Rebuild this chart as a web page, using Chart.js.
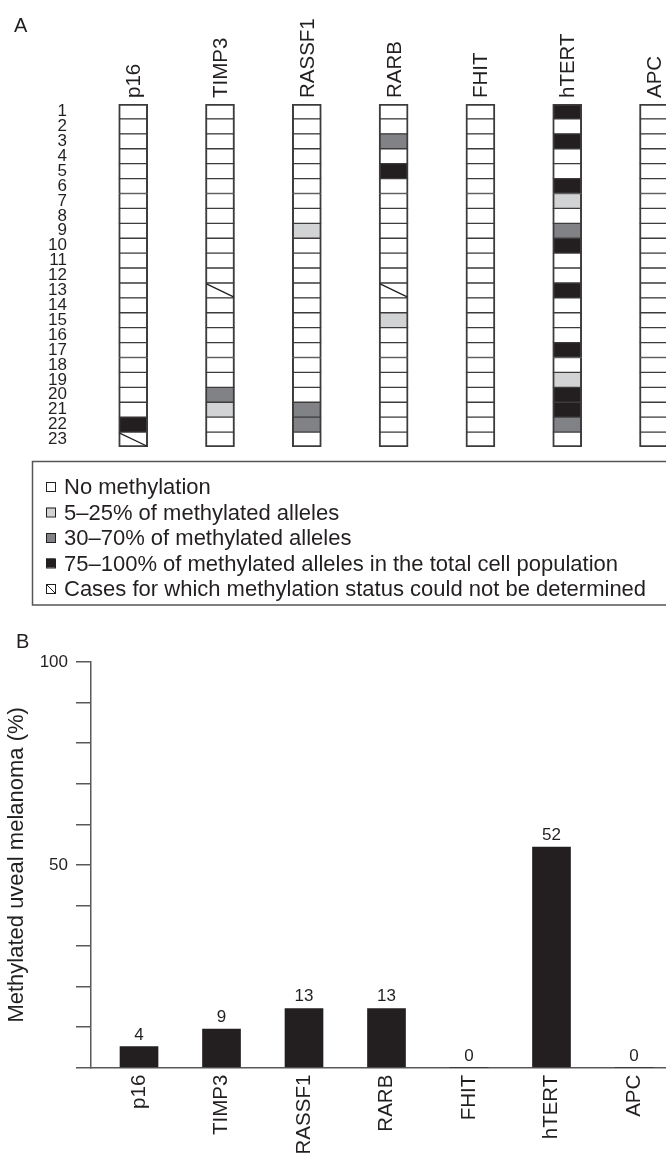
<!DOCTYPE html>
<html><head><meta charset="utf-8">
<script src="https://cdn.jsdelivr.net/npm/chart.js@4.4.1/dist/chart.umd.min.js"></script>
<style>
html,body{margin:0;padding:0;background:#fff;width:666px;height:1153px;overflow:hidden}
.wrap{position:absolute;left:0;width:666px}
#wa{top:0;height:620px}
#wb{top:620px;height:533px}
canvas{display:block}
</style></head><body>
<div class="wrap" id="wa"><canvas id="ca" width="666" height="620"></canvas></div>
<div class="wrap" id="wb"><canvas id="cb" width="666" height="533"></canvas></div>
<script>
// ---------------- data ----------------
const genes = ['p16', 'TIMP3', 'RASSF1', 'RARB', 'FHIT', 'hTERT', 'APC'];
const caseNumbers = [1,2,3,4,5,6,7,8,9,10,11,12,13,14,15,16,17,18,19,20,21,22,23];
// N = no methylation, L = 5–25%, M = 30–70%, H = 75–100%, U = not determined
const p16Status    = ['N','N','N','N','N','N','N','N','N','N','N','N','N','N','N','N','N','N','N','N','N','H','U'];
const timp3Status  = ['N','N','N','N','N','N','N','N','N','N','N','N','U','N','N','N','N','N','N','M','L','N','N'];
const rassf1Status = ['N','N','N','N','N','N','N','N','L','N','N','N','N','N','N','N','N','N','N','N','M','M','N'];
const rarbStatus   = ['N','N','M','N','H','N','N','N','N','N','N','N','U','N','L','N','N','N','N','N','N','N','N'];
const fhitStatus   = ['N','N','N','N','N','N','N','N','N','N','N','N','N','N','N','N','N','N','N','N','N','N','N'];
const htertStatus  = ['H','N','H','N','N','H','L','N','M','H','N','N','H','N','N','N','H','N','L','H','H','M','N'];
const apcStatus    = ['N','N','N','N','N','N','N','N','N','N','N','N','N','N','N','N','N','N','N','N','N','N','N'];
const legendTexts = ['No methylation', '5–25% of methylated alleles', '30–70% of methylated alleles',
  '75–100% of methylated alleles in the total cell population', 'Cases for which methylation status could not be determined'];
const legendStatus = ['N','L','M','H','U'];
// panel B
const barHeights = [5.2, 9.5, 14.6, 14.6, 0, 54.4, 0];
const barLabels = ['4', '9', '13', '13', '0', '52', '0'];
const yTickValues = [0,10,20,30,40,50,60,70,80,90,100];
const yTickLabeled = [50, 100];
const yTitle = 'Methylated uveal melanoma (%)';

// ---------------- styles ----------------
const FONT = "'Liberation Sans', Arial, Helvetica, sans-serif";
const INK = '#231f20';
const LINE = '#3d3b3c';
const statusColor = { N: '#ffffff', L: '#d1d3d4', M: '#808285', H: '#231f20', U: '#ffffff' };
const statusByGene = [p16Status, timp3Status, rassf1Status, rarbStatus, fhitStatus, htertStatus, apcStatus];

const panelLetter = {
  id: 'panelLetter',
  afterDraw(chart, args, o) {
    const ctx = chart.ctx; ctx.save();
    ctx.font = `20px ${FONT}`; ctx.fillStyle = INK; ctx.textAlign = 'left'; ctx.textBaseline = 'alphabetic';
    ctx.fillText(o.text, o.x, o.y); ctx.restore();
  }
};

const undetermined = {
  id: 'undetermined',
  afterDatasetsDraw(chart) {
    const ctx = chart.ctx, a = chart.chartArea;
    ctx.save();
    ctx.beginPath(); ctx.rect(a.left, a.top, a.right - a.left, a.bottom - a.top); ctx.clip();
    chart.data.datasets.forEach((ds, di) => {
      const meta = chart.getDatasetMeta(di);
      meta.data.forEach((el, i) => {
        if (statusByGene[di][i] !== 'U') return;
        const p = el.getProps(['x', 'y', 'base', 'width'], true);
        const l = p.x - p.width / 2, r = p.x + p.width / 2;
        const t = Math.min(p.y, p.base), b = Math.max(p.y, p.base);
        ctx.beginPath(); ctx.moveTo(l + 1, t + 1); ctx.lineTo(r - 1, b - 1);
        ctx.strokeStyle = INK; ctx.lineWidth = 1.3; ctx.stroke();
      });
    });
    ctx.restore();
  }
};

const boxLegend = {
  id: 'boxLegend',
  afterDraw(chart) {
    const ctx = chart.ctx; ctx.save();
    ctx.strokeStyle = '#555'; ctx.lineWidth = 1.5;
    ctx.strokeRect(32.5, 461.5, 700, 143.5);
    legendTexts.forEach((t, i) => {
      const cy = 487 + i * 25.5;
      const s = legendStatus[i];
      ctx.fillStyle = statusColor[s];
      ctx.fillRect(46, cy - 5, 9, 9);
      ctx.strokeStyle = INK; ctx.lineWidth = 1;
      ctx.strokeRect(46.5, cy - 4.5, 9, 9);
      if (s === 'U') { ctx.beginPath(); ctx.moveTo(47, cy - 4); ctx.lineTo(55, cy + 4); ctx.stroke(); }
      ctx.fillStyle = INK; ctx.font = `22px ${FONT}`; ctx.textAlign = 'left'; ctx.textBaseline = 'middle';
      ctx.fillText(t, 64, cy + 1);
    });
    ctx.restore();
  }
};

const barValueLabels = {
  id: 'barValueLabels',
  afterDatasetsDraw(chart) {
    const ctx = chart.ctx; ctx.save();
    ctx.font = `17px ${FONT}`; ctx.fillStyle = INK; ctx.textAlign = 'center'; ctx.textBaseline = 'alphabetic';
    chart.getDatasetMeta(0).data.forEach((el, i) => { ctx.fillText(barLabels[i], el.x, el.y - 7); });
    ctx.restore();
  }
};

// ---------------- panel A ----------------
new Chart(document.getElementById('ca'), {
  type: 'bar',
  data: {
    datasets: genes.map((g, gi) => ({
      label: g,
      data: caseNumbers.map(r => ({ x: gi, y: [r - 1, r] })),
      backgroundColor: statusByGene[gi].map(s => statusColor[s]),
      borderColor: LINE,
      borderWidth: c => ({ top: c.dataIndex === 0 ? 2 : 1, bottom: c.dataIndex === caseNumbers.length - 1 ? 2 : 1, left: 2, right: 2 }),
      borderSkipped: false,
      barThickness: 29,
      grouped: false
    }))
  },
  options: {
    responsive: false, animation: false,
    layout: { autoPadding: false, padding: { top: 0, left: 0, right: 0, bottom: 173 } },
    plugins: { legend: { display: false }, tooltip: { enabled: false }, panelLetter: { text: 'A', x: 14, y: 32 } },
    scales: {
      x: {
        type: 'linear', position: 'top', min: -0.705, max: 6.138, offset: false,
        afterBuildTicks: s => { s.ticks = genes.map((g, i) => ({ value: i })); },
        afterFit: s => { s.height = 104; },
        ticks: { callback: (v, i) => genes[i], minRotation: 90, maxRotation: 90, autoSkip: false,
                 font: { family: FONT, size: 20.5 }, color: INK, padding: 6, labelOffset: 26 },
        grid: { display: false, drawTicks: false, offset: false }, border: { display: false }
      },
      y: {
        type: 'linear', reverse: true, min: 0, max: caseNumbers.length,
        afterBuildTicks: s => { s.ticks = caseNumbers.map(r => ({ value: r - 0.5 })); },
        afterFit: s => { s.width = 72; },
        ticks: { callback: (v, i) => String(caseNumbers[i]), autoSkip: false,
                 font: { family: FONT, size: 17 }, color: INK, padding: 5 },
        grid: { display: false, drawTicks: false }, border: { display: false }
      }
    }
  },
  plugins: [undetermined, boxLegend, panelLetter]
});

// ---------------- panel B ----------------
new Chart(document.getElementById('cb'), {
  type: 'bar',
  data: {
    datasets: [{
      data: genes.map((g, i) => ({ x: i, y: barHeights[i] })),
      backgroundColor: INK, borderWidth: 0, barThickness: 38
    }]
  },
  options: {
    responsive: false, animation: false,
    layout: { autoPadding: false, padding: { top: 42, left: 0, right: 0, bottom: 0 } },
    plugins: { legend: { display: false }, tooltip: { enabled: false }, panelLetter: { text: 'B', x: 16, y: 28 } },
    scales: {
      x: {
        type: 'linear', min: -0.582, max: 6.388, offset: false,
        afterBuildTicks: s => { s.ticks = genes.map((g, i) => ({ value: i })); },
        afterFit: s => { s.height = 85.3; },
        ticks: { callback: (v, i) => genes[i], minRotation: 90, maxRotation: 90, autoSkip: false,
                 font: { family: FONT, size: 20.5 }, color: INK, padding: 7 },
        grid: { display: false, drawTicks: false, offset: false },
        border: { display: true, color: '#58595b', width: 1.5 }
      },
      y: {
        min: 0, max: 100,
        afterBuildTicks: s => { s.ticks = yTickValues.map(v => ({ value: v })); },
        afterFit: s => { s.width = 91; },
        ticks: { callback: v => (yTickLabeled.includes(v) ? String(v) : ''), autoSkip: false,
                 font: { family: FONT, size: 17 }, color: INK, padding: 8 },
        grid: { drawOnChartArea: false, drawTicks: true, tickLength: 15, color: '#58595b', lineWidth: 1.5 },
        border: { display: true, color: '#58595b', width: 1.5 },
        title: { display: true, text: yTitle, font: { family: FONT, size: 22 }, color: INK, padding: { top: 4, bottom: 4 } }
      }
    }
  },
  plugins: [barValueLabels, panelLetter]
});
</script>
</body></html>
